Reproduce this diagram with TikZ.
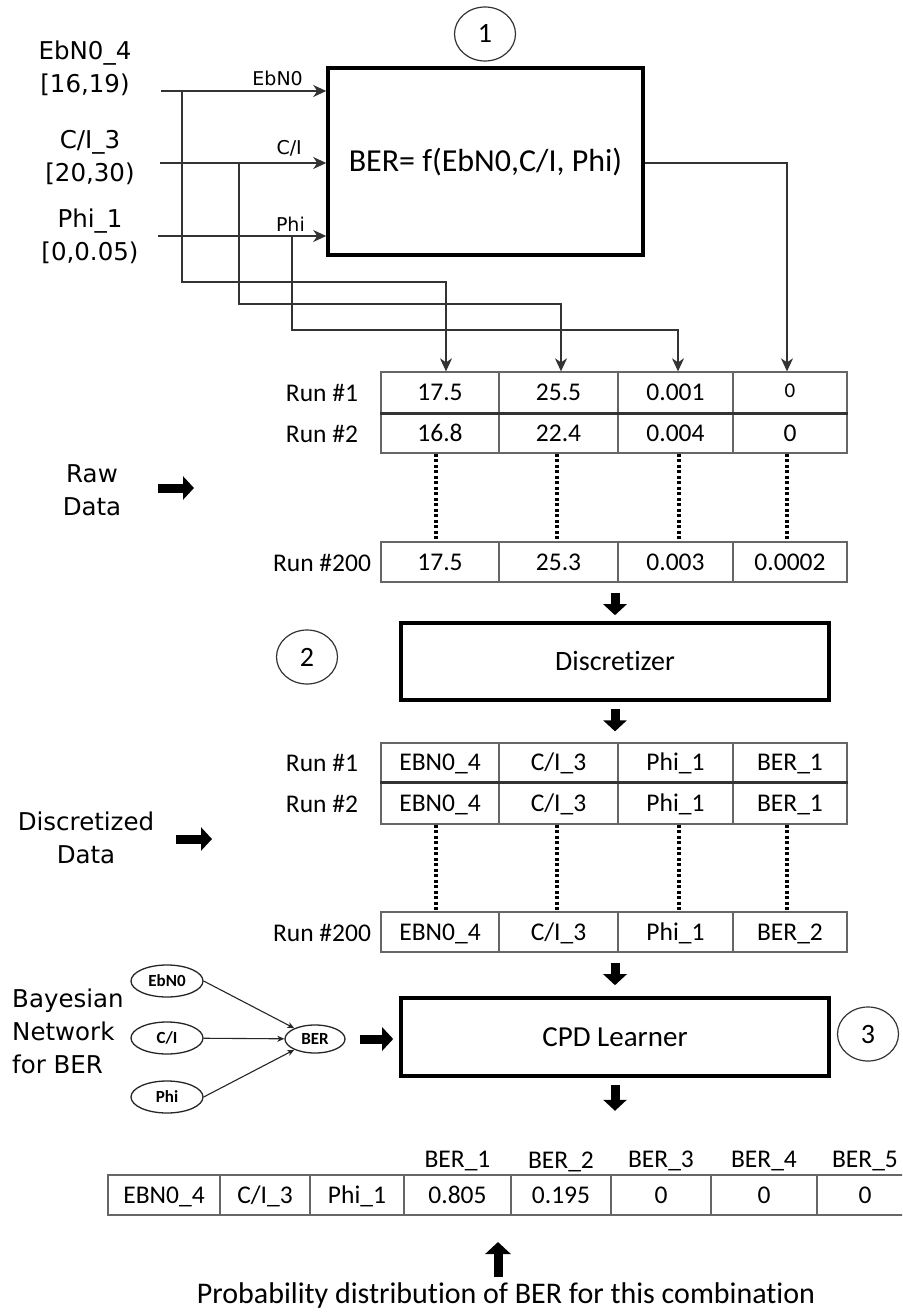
\documentclass[tikz,border=0pt]{standalone}
\usepackage{fontspec}
\setmainfont{Carlito}[Ligatures=NoCommon]
\newfontfamily\dejavu{DejaVu Sans}
\usetikzlibrary{arrows.meta,shapes.geometric}
\begin{document}
\begin{tikzpicture}[x=1pt,y=-1pt,
  conn/.style={draw=black!80, line width=1.3pt},
  arr/.style={conn, -{Stealth[length=13pt,width=12pt,inset=4pt]}},
  smallarr/.style={draw=black!85, line width=1.1pt, -{Stealth[length=7pt,width=6pt,inset=2pt]}},
  blk/.style={draw=black, line width=9pt, -{Triangle[length=11pt,width=23pt]}},
  bigbox/.style={draw=black, line width=3.6pt, inner sep=0pt},
  num/.style={draw=black!80, line width=1.2pt, ellipse, minimum width=61, minimum height=54,
    inner sep=0pt, text height=18pt, text depth=0pt, font=\fontsize{28}{34}\selectfont},
  cell/.style={draw=black!60, line width=1.3pt, inner sep=0pt, text height=16pt, text depth=0pt,
    font=\fontsize{25.5}{30}\selectfont},
  runlbl/.style={inner sep=0pt, text height=16pt, text depth=0pt, font=\fontsize{25.5}{30}\selectfont},
  side/.style={inner sep=0pt, align=center, font=\dejavu\fontsize{24.5}{33}\selectfont},
  tag/.style={inner sep=0pt, anchor=east, font=\dejavu\fontsize{19}{23}\selectfont},
  bn/.style={draw=black!85, line width=1.3pt, ellipse, inner sep=0pt, text height=11pt, text depth=0pt,
    font=\bfseries\fontsize{17}{20}\selectfont},
  dots/.style={draw=black, line width=3.6pt, dash pattern=on 3pt off 2.5pt},
  rowsep/.style={draw=black!80, line width=2.6pt},
  ca/.style={minimum width=118}, cb/.style={minimum width=119},
  cc/.style={minimum width=115}, cd/.style={minimum width=114}
]
\useasboundingbox (0,0) rectangle (902,1313);
\fill[white] (0,0) rectangle (902,1313);
\clip (0,0) rectangle (902,1313);

% ---------- stage 1: simulation box and its inputs ----------
\node[side] (inE) at (85,68.5) {EbN0\_4\\{[16,19)}};
\node[side] (inC) at (90,157.5) {C/I\_3\\{[20,30)}};
\node[side] (inP) at (90,236) {Phi\_1\\{[0,0.05)}};

\node[bigbox, minimum width=315, minimum height=187, text height=20pt, text depth=0pt,
  font=\fontsize{32}{38}\selectfont] (fbox) at (485.5,161.5) {BER= f(EbN0,C/I, Phi)};
\node[num] (n1) at (485,34) {1};

\node[tag] (tE) at (303,78) {EbN0};
\node[tag] (tC) at (302,148) {C/I};
\node[tag] (tP) at (305,224) {Phi};

\coordinate (s1) at (161,91);
\coordinate (s2) at (160,163);
\coordinate (s3) at (158,236);
\draw[arr] (s1) -- (s1 -| fbox.west);
\draw[arr] (s2) -- (s2 -| fbox.west);
\draw[arr] (s3) -- (s3 -| fbox.west);

% ---------- raw data table ----------
\node[cell,ca,minimum height=41] (a11) at (440,392.5) {17.5};
\node[cell,cb,minimum height=41] (a12) at (558.5,392.5) {25.5};
\node[cell,cc,minimum height=41] (a13) at (675.5,392.5) {0.001};
\node[cell,cd,minimum height=41] (a14) at (790,392.5) {\raisebox{3pt}{\fontsize{21}{25}\selectfont 0}};
\node[cell,ca,minimum height=40] (a21) at (440,433) {16.8};
\node[cell,cb,minimum height=40] (a22) at (558.5,433) {22.4};
\node[cell,cc,minimum height=40] (a23) at (675.5,433) {0.004};
\node[cell,cd,minimum height=40] (a24) at (790,433) {0};
\node[cell,ca,minimum height=40] (a31) at (440,562) {17.5};
\node[cell,cb,minimum height=40] (a32) at (558.5,562) {25.3};
\node[cell,cc,minimum height=40] (a33) at (675.5,562) {0.003};
\node[cell,cd,minimum height=40] (a34) at (790,562) {0.0002};
\draw[rowsep] (a11.south west) -- (a14.south east);

\node[runlbl] (ra1) at (322,393) {Run \#1};
\node[runlbl] (ra2) at (322,434) {Run \#2};
\node[runlbl] (ra3) at (322,563) {Run \#200};

\draw[dots] ([xshift=-4pt]a21.south) -- ([xshift=-4pt]a31.north);
\draw[dots] ([xshift=-1.5pt]a22.south) -- ([xshift=-1.5pt]a32.north);
\draw[dots] ([xshift=3.5pt]a23.south) -- ([xshift=3.5pt]a33.north);
\draw[dots] ([xshift=-3pt]a24.south) -- ([xshift=-3pt]a34.north);

% branches from the inputs and the output into the table
\coordinate (b1) at (182,91);  \coordinate (k1) at (446,282);
\coordinate (b2) at (239,163); \coordinate (k2) at (561,304);
\coordinate (b3) at (292,236); \coordinate (k3) at (678,330);
\coordinate (k4) at (787,163);
\draw[arr] (b1) |- (k1) -- (k1 |- a11.north);
\draw[arr] (b2) |- (k2) -- (k2 |- a12.north);
\draw[arr] (b3) |- (k3) -- (k3 |- a13.north);
\draw[arr] (fbox.east |- k4) -- (k4) -- (k4 |- a14.north);

\node[side] (raw) at (92,490.5) {Raw\\Data};
\coordinate (rawtail) at (158,488);
\draw[blk] (rawtail) -- ++(36,0);

% ---------- stage 2: discretizer ----------
\node[bigbox, minimum width=428, minimum height=77, text height=18pt, text depth=0pt,
  font=\fontsize{28}{34}\selectfont] (disc) at (615,661.5) {Discretizer};
\node[num] (n2) at (307,657) {2};
\draw[blk, shorten <=10pt, shorten >=6pt] (disc.north |- a32.south) -- (disc.north);

% ---------- discretized table ----------
\node[cell,ca,minimum height=39] (d11) at (440,762.5) {EBN0\_4};
\node[cell,cb,minimum height=39] (d12) at (558.5,762.5) {C/I\_3};
\node[cell,cc,minimum height=39] (d13) at (675.5,762.5) {Phi\_1};
\node[cell,cd,minimum height=39] (d14) at (790,762.5) {BER\_1};
\node[cell,ca,minimum height=42] (d21) at (440,803) {EBN0\_4};
\node[cell,cb,minimum height=42] (d22) at (558.5,803) {C/I\_3};
\node[cell,cc,minimum height=42] (d23) at (675.5,803) {Phi\_1};
\node[cell,cd,minimum height=42] (d24) at (790,803) {BER\_1};
\node[cell,ca,minimum height=40] (d31) at (440,932) {EBN0\_4};
\node[cell,cb,minimum height=40] (d32) at (558.5,932) {C/I\_3};
\node[cell,cc,minimum height=40] (d33) at (675.5,932) {Phi\_1};
\node[cell,cd,minimum height=40] (d34) at (790,932) {BER\_2};
\draw[rowsep] (d11.south west) -- (d14.south east);

\node[runlbl] (rd1) at (322,763) {Run \#1};
\node[runlbl] (rd2) at (322,804) {Run \#2};
\node[runlbl] (rd3) at (322,933) {Run \#200};

\draw[dots] ([xshift=-4pt]d21.south) -- ([xshift=-4pt]d31.north);
\draw[dots] ([xshift=-1.5pt]d22.south) -- ([xshift=-1.5pt]d32.north);
\draw[dots] ([xshift=3.5pt]d23.south) -- ([xshift=3.5pt]d33.north);
\draw[dots] ([xshift=-3pt]d24.south) -- ([xshift=-3pt]d34.north);

\draw[blk, shorten <=7pt, shorten >=11pt] (disc.south) -- (disc.south |- d12.north);

\node[side] (dsc) at (86,838) {Discretized\\Data};
\coordinate (dsctail) at (176,839);
\draw[blk] (dsctail) -- ++(36,0);

% ---------- stage 3: CPD learner and Bayesian network ----------
\node[bigbox, minimum width=428, minimum height=78, text height=18pt, text depth=0pt,
  font=\fontsize{29}{35}\selectfont] (cpd) at (615,1037) {CPD Learner};
\node[num] (n3) at (868,1034) {3};
\draw[blk, shorten <=10pt, shorten >=11pt] (cpd.north |- d32.south) -- (cpd.north);
\draw[blk, shorten <=7pt] (cpd.south) -- ++(0,33);

\node[side, align=left, anchor=west] (bnlbl) at (12,1031) {Bayesian\\Network\\for BER};
\node[bn, minimum width=72, minimum height=32] (e1) at (167,981) {EbN0};
\node[bn, minimum width=72, minimum height=32] (e2) at (167,1038) {C/I};
\node[bn, minimum width=72, minimum height=32] (e3) at (167,1097) {Phi};
\node[bn, minimum width=60, minimum height=28] (ber) at (315,1039) {BER};
\draw[smallarr] (e1.east) -- (ber);
\draw[smallarr] (e2) -- (ber);
\draw[smallarr] (e3.east) -- (ber);
\draw[blk, shorten <=14pt, shorten >=6pt] (ber.east) -- (ber.east -| cpd.west);

% ---------- learned distribution ----------
\node[cell,minimum width=112,minimum height=40] (f1) at (164,1195) {EBN0\_4};
\node[cell,minimum width=90,minimum height=40] (f2) at (265,1195) {C/I\_3};
\node[cell,minimum width=94,minimum height=40] (f3) at (357,1195) {Phi\_1};
\node[cell,minimum width=107,minimum height=40] (f4) at (457.5,1195) {0.805};
\node[cell,minimum width=100,minimum height=40] (f5) at (561,1195) {0.195};
\node[cell,minimum width=100,minimum height=40] (f6) at (661,1195) {0};
\node[cell,minimum width=106,minimum height=40] (f7) at (764,1195) {0};
\node[cell,minimum width=96,minimum height=40] (f8) at (865,1195) {0};

\node[runlbl, anchor=base] (h1) at ([yshift=7pt]f4.north) {BER\_1};
\node[runlbl, anchor=base] (h2) at ([yshift=6pt]f5.north) {BER\_2};
\node[runlbl, anchor=base] (h3) at ([yshift=7pt]f6.north) {BER\_3};
\node[runlbl, anchor=base] (h4) at ([yshift=7pt]f7.north) {BER\_4};
\node[runlbl, anchor=base] (h5) at ([yshift=7pt]f8.north) {BER\_5};

\coordinate (uptail) at (498,1277);
\coordinate (uphead) at (498,1242);
\draw[blk, -{Triangle[length=12pt,width=25pt]}] (uptail) -- (uphead);
\node[runlbl, text height=19pt, font=\fontsize{30}{36}\selectfont] (prob) at (506,1294)
  {Probability distribution of BER for this combination};
\end{tikzpicture}
\end{document}
